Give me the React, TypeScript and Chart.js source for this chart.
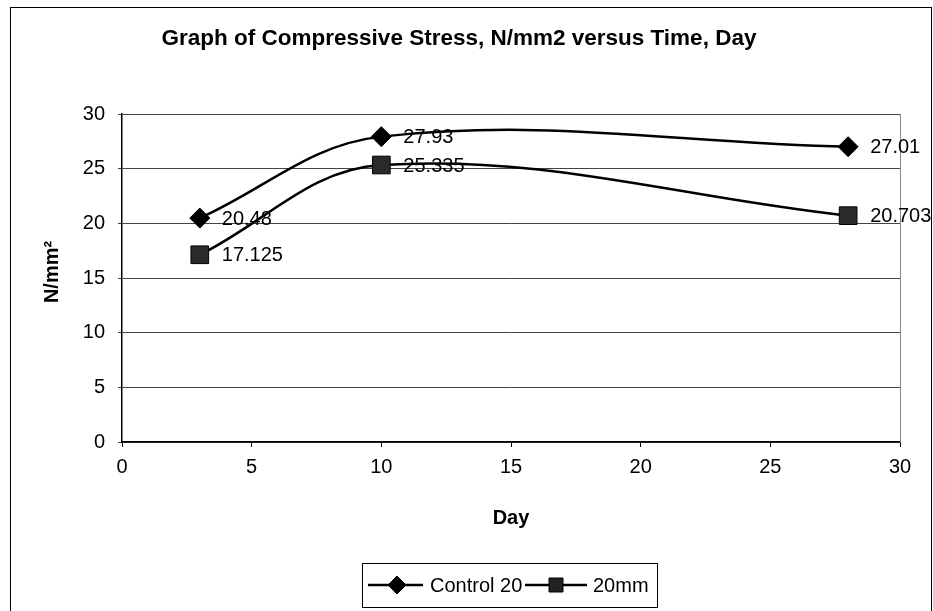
import React, { useEffect, useRef } from "react";
import { Chart, registerables } from "chart.js";

Chart.register(...registerables);

const days = [3, 10, 28];
const control20 = [20.48, 27.93, 27.01];
const mm20 = [17.125, 25.335, 20.703];
const controlLabels = ["20.48", "27.93", "27.01"];
const mm20Labels = ["17.125", "25.335", "20.703"];
const seriesNames = ["Control 20", "20mm"];
const titleText = "Graph of Compressive Stress, N/mm2 versus Time, Day";
const xTitle = "Day";
const yTitle = "N/mm²";

const FONT = "'Liberation Sans', Arial, sans-serif";

const extras = {
  id: "extras",
  beforeDraw(chart: any) {
    const ctx = chart.ctx;
    ctx.save();
    ctx.fillStyle = "#fff";
    ctx.fillRect(0, 0, chart.width, chart.height);
    ctx.strokeStyle = "#000";
    ctx.lineWidth = 1;
    ctx.strokeRect(10.5, 7.5, 921, 620);
    ctx.restore();
  },
  afterDraw(chart: any) {
    const ctx = chart.ctx;
    const area = chart.chartArea;
    ctx.save();
    // right border of plot area
    ctx.strokeStyle = "#888";
    ctx.lineWidth = 1;
    ctx.beginPath();
    ctx.moveTo(Math.round(area.right) + 0.5, area.top);
    ctx.lineTo(Math.round(area.right) + 0.5, area.bottom);
    ctx.stroke();

    // title
    ctx.fillStyle = "#000";
    ctx.font = `bold 22.5px ${FONT}`;
    ctx.textAlign = "center";
    ctx.textBaseline = "middle";
    ctx.fillText(titleText, 459, 39);

    // x title
    ctx.font = `bold 20px ${FONT}`;
    ctx.fillText(xTitle, (area.left + area.right) / 2, 518);

    // y title
    ctx.save();
    ctx.translate(52, 272);
    ctx.rotate(-Math.PI / 2);
    ctx.fillText(yTitle, 0, 0);
    ctx.restore();

    // data labels
    ctx.font = `20px ${FONT}`;
    ctx.textAlign = "left";
    const labelSets = [controlLabels, mm20Labels];
    chart.data.datasets.forEach((ds: any, di: number) => {
      const meta = chart.getDatasetMeta(di);
      meta.data.forEach((pt: any, i: number) => {
        ctx.fillText(labelSets[di][i], pt.x + 22, pt.y + 1);
      });
    });

    // legend
    ctx.strokeStyle = "#000";
    ctx.lineWidth = 1;
    ctx.strokeRect(362.5, 563.5, 295, 44);
    const ly = 585;
    const items = [
      { x1: 368, x2: 423, mx: 397, style: "rectRot", r: 9, text: seriesNames[0], tx: 430, fill: "#000" },
      { x1: 525, x2: 587, mx: 556, style: "rect", r: 12, text: seriesNames[1], tx: 593, fill: "#222" },
    ];
    items.forEach((it) => {
      ctx.strokeStyle = "#000";
      ctx.lineWidth = 2.5;
      ctx.beginPath();
      ctx.moveTo(it.x1, ly);
      ctx.lineTo(it.x2, ly);
      ctx.stroke();
      ctx.fillStyle = it.fill;
      ctx.strokeStyle = "#000";
      ctx.lineWidth = 1;
      ctx.beginPath();
      if (it.style === "rectRot") {
        ctx.moveTo(it.mx - it.r, ly);
        ctx.lineTo(it.mx, ly - it.r);
        ctx.lineTo(it.mx + it.r, ly);
        ctx.lineTo(it.mx, ly + it.r);
        ctx.closePath();
      } else {
        const s = 7;
        ctx.rect(it.mx - s, ly - s, 2 * s, 2 * s);
      }
      ctx.fill();
      ctx.stroke();
      ctx.fillStyle = "#000";
      ctx.font = `20px ${FONT}`;
      ctx.textAlign = "left";
      ctx.textBaseline = "middle";
      ctx.fillText(it.text, it.tx, ly + 1);
    });
    ctx.restore();
  },
};

export default function App() {
  const ref = useRef<HTMLCanvasElement>(null);
  useEffect(() => {
    if (!ref.current) return;
    const chart = new Chart(ref.current, {
      type: "line",
      data: {
        datasets: [
          {
            label: seriesNames[0],
            data: days.map((d, i) => ({ x: d, y: control20[i] })),
            borderColor: "#000",
            backgroundColor: "#000",
            borderWidth: 2.5,
            tension: 0.37,
            pointStyle: "rectRot",
            pointRadius: 10,
            pointBorderColor: "#000",
            pointBackgroundColor: "#000",
            pointBorderWidth: 1,
          },
          {
            label: seriesNames[1],
            data: days.map((d, i) => ({ x: d, y: mm20[i] })),
            borderColor: "#000",
            backgroundColor: "#222",
            borderWidth: 2.5,
            tension: 0.37,
            pointStyle: "rect",
            pointRadius: 12.5,
            pointBorderColor: "#000",
            pointBackgroundColor: "#2a2a2a",
            pointBorderWidth: 1,
          },
        ],
      },
      options: {
        animation: false,
        responsive: true,
        maintainAspectRatio: false,
        layout: { padding: { left: 0, right: 33, top: 114, bottom: 108 } },
        plugins: {
          legend: { display: false },
          title: { display: false },
          tooltip: { enabled: false },
        },
        scales: {
          x: {
            type: "linear",
            min: 0,
            max: 30,
            ticks: {
              stepSize: 5,
              color: "#000",
              font: { family: FONT, size: 20 },
              padding: 8,
            },
            grid: {
              drawOnChartArea: false,
              drawTicks: true,
              tickLength: 5,
              color: "#000",
            },
            border: { color: "#000", width: 1.5 },
            afterFit: (s: any) => {
              s.height = 61;
            },
          },
          y: {
            min: 0,
            max: 30,
            ticks: {
              stepSize: 5,
              color: "#000",
              font: { family: FONT, size: 20 },
              padding: 13,
            },
            grid: {
              color: "#444",
              tickLength: 4,
              lineWidth: 1,
            },
            border: { color: "#000", width: 1.5 },
            afterFit: (s: any) => {
              s.width = 122;
            },
          },
        },
      },
      plugins: [extras],
    });
    return () => chart.destroy();
  }, []);
  return (
    <div style={{ position: "absolute", left: 0, top: 0, width: 933, height: 611 }}>
      <canvas ref={ref} />
    </div>
  );
}
